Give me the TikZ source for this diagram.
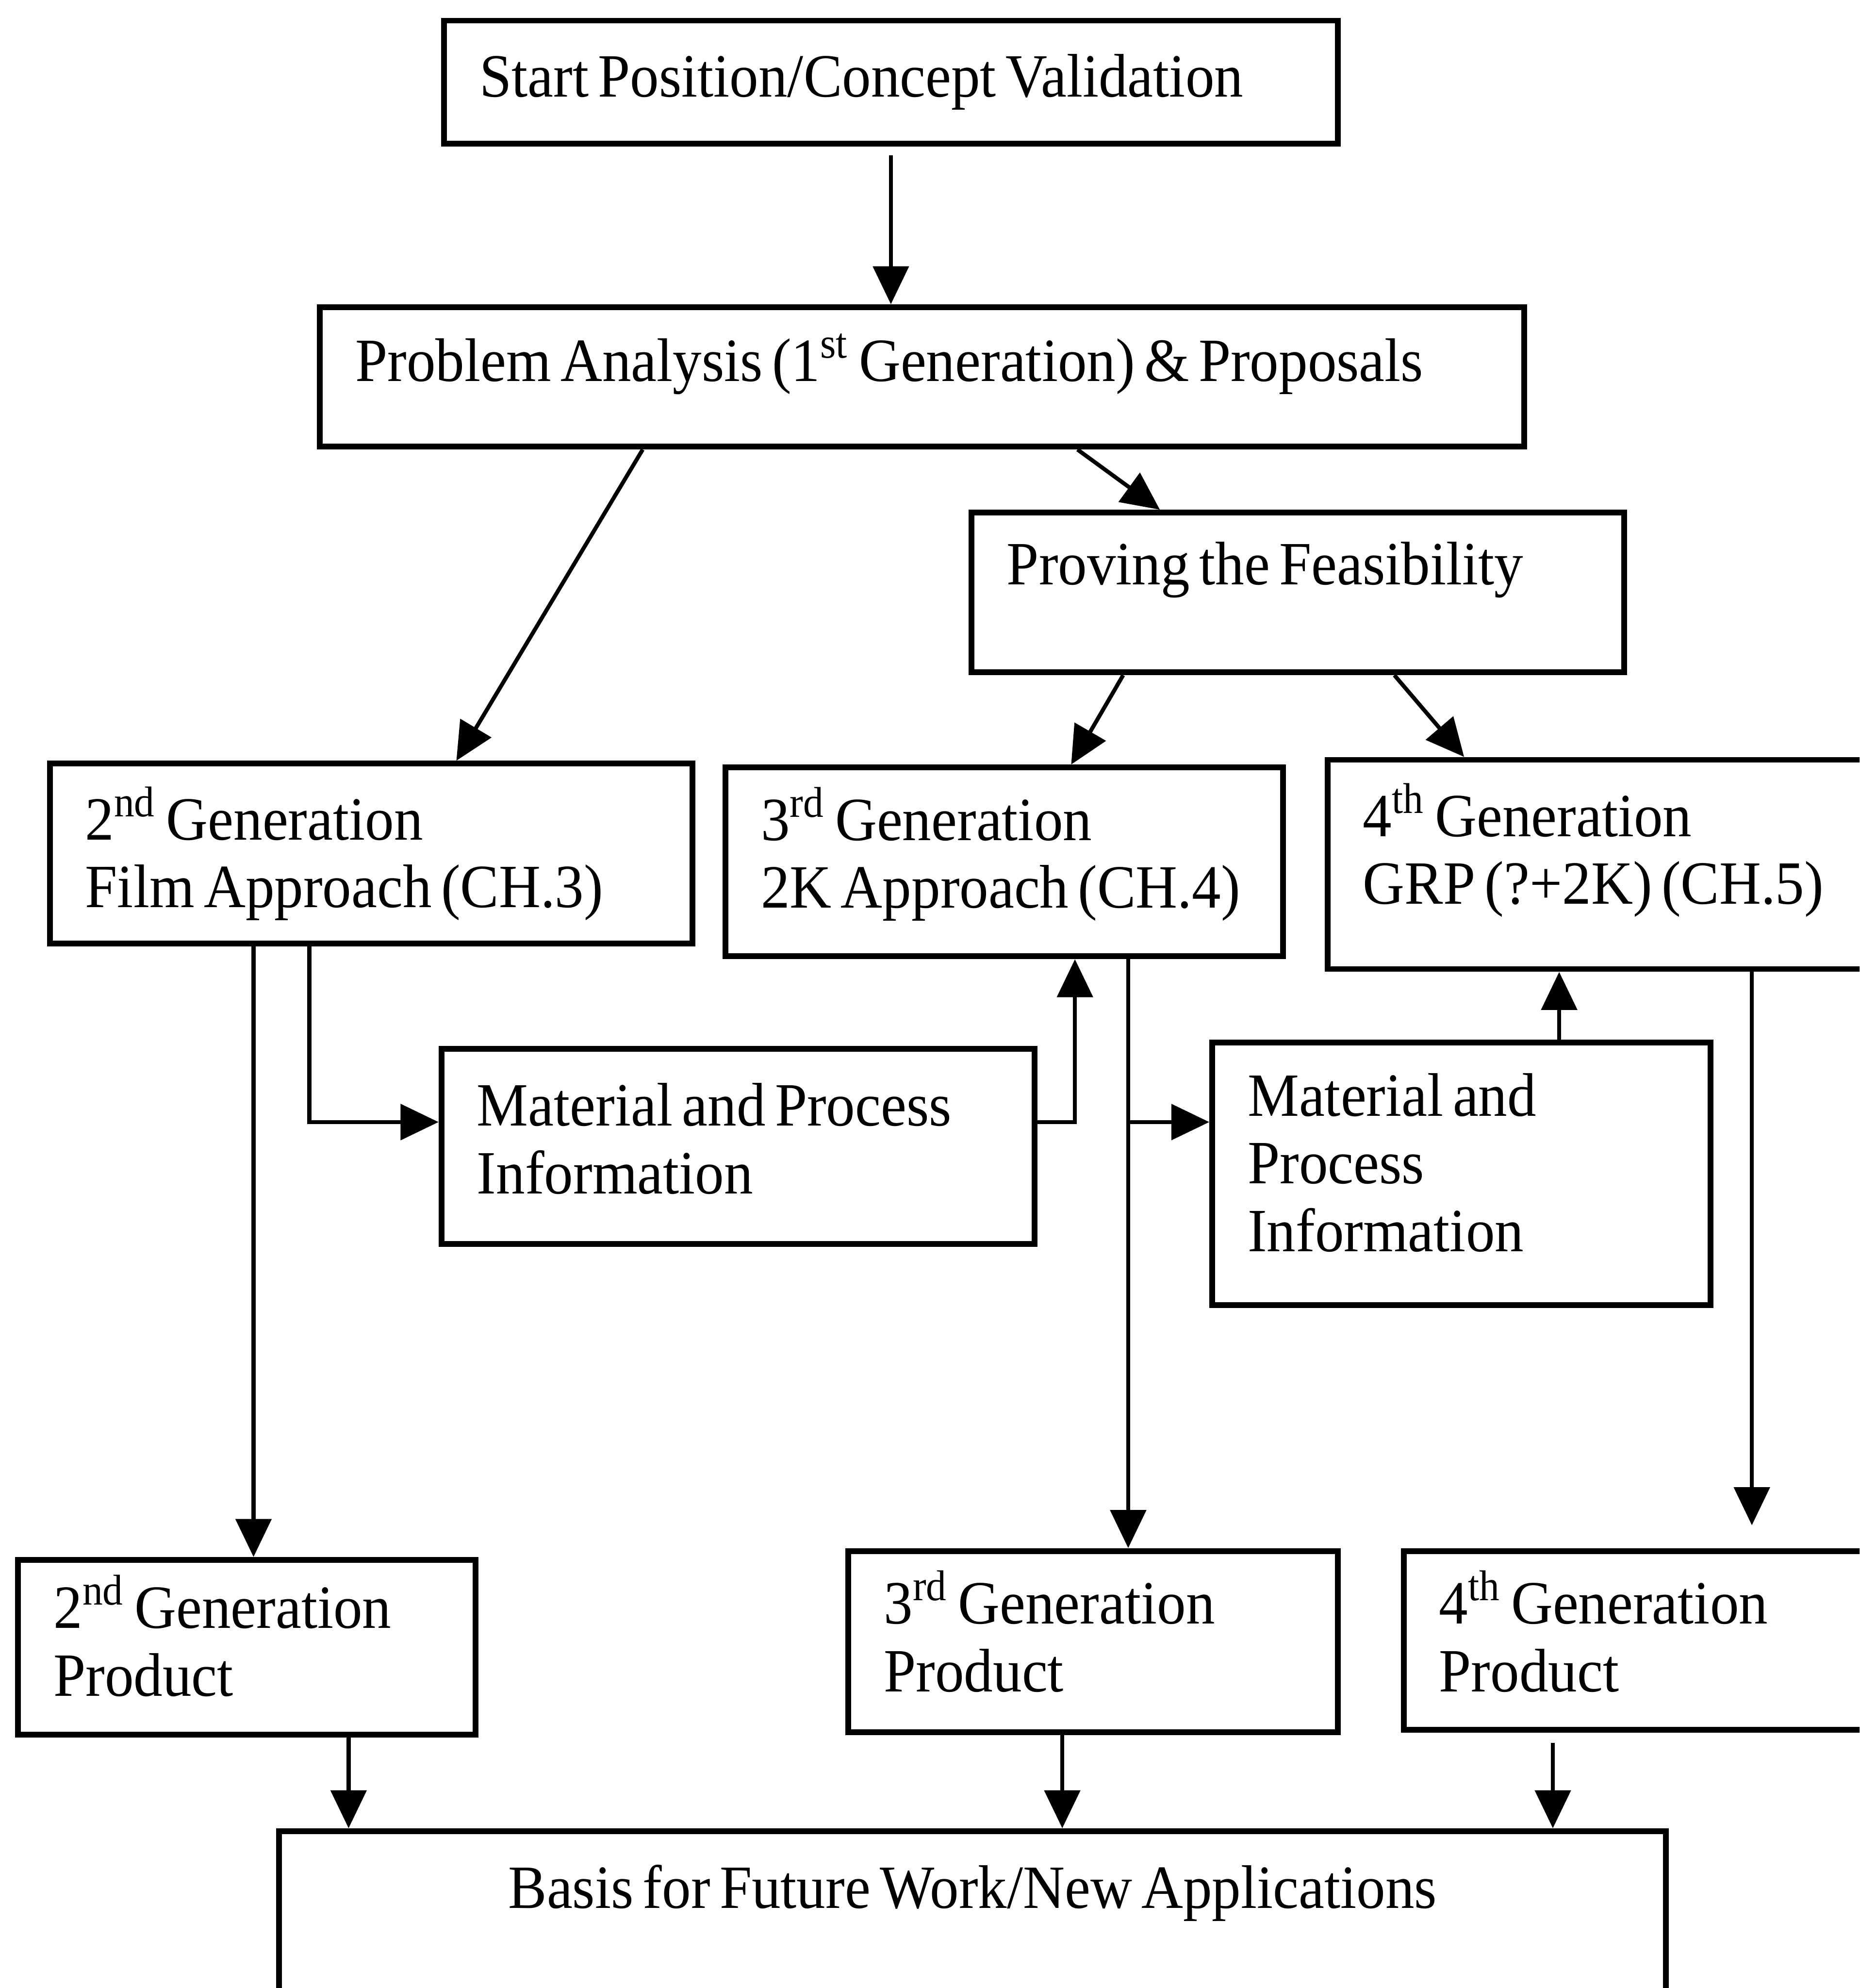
\documentclass[tikz,border=0pt]{standalone}
\usepackage{fontspec}
\setmainfont{Liberation Serif}[FakeStretch=0.94, WordSpace=0.65]
\usepackage{tikz}
\usetikzlibrary{arrows.meta, positioning, calc}

\begin{document}
\begin{tikzpicture}[
  stage/.style={draw, line width=1.3pt, anchor=north west, align=flush left, inner xsep=0.28cm, inner ysep=0pt, font=\fontsize{13.8}{15.2}\selectfont},
  flow/.style={line width=0.9pt, -{Triangle[length=0.3cm, width=0.28cm]}}
]
\useasboundingbox (0,0) rectangle (14.67,-15.68);
\clip (0,0) rectangle (14.67,-15.68);

% Start and analysis
\node[stage, text width=6.49cm, minimum height=0.97cm] (start) at (3.48,-0.14) {Start Position/Concept Validation};
\node[stage, text width=8.94cm, minimum height=1.10cm, text depth=0.31cm] (problem) at (2.50,-2.40) {Problem Analysis (1\textsuperscript{st} Generation) \& Proposals};
\node[stage, text width=4.59cm, minimum height=1.26cm, text depth=0.46cm] (proving) at (7.64,-4.02) {Proving the Feasibility};

% Generations
\node[stage, text width=4.51cm, minimum height=1.42cm] (gen2) at (0.37,-6.00) {2\textsuperscript{nd} Generation\\Film Approach (CH.3)};
\node[stage, text width=3.84cm, minimum height=1.49cm, text depth=0.76cm] (gen3) at (5.70,-6.03) {3\textsuperscript{rd} Generation\\2K Approach (CH.4)};
\node[stage, text width=4.04cm, minimum height=1.65cm, text depth=0.86cm] (gen4) at (10.45,-5.97) {4\textsuperscript{th} Generation\\GRP (?+2K) (CH.5)};

% Material and process information
\node[stage, text width=4.12cm, minimum height=1.54cm, text depth=0.66cm] (mat1) at (3.46,-8.25) {Material and Process\\Information};
\node[stage, text width=3.37cm, minimum height=2.07cm, text depth=1.25cm] (mat2) at (9.54,-8.20) {Material and\\Process\\Information};

% Products
\node[stage, text width=3.05cm, minimum height=1.38cm, text depth=0.72cm] (prod2) at (0.12,-12.28) {2\textsuperscript{nd} Generation\\Product};
\node[stage, text width=3.30cm, minimum height=1.43cm, text depth=0.70cm] (prod3) at (6.67,-12.21) {3\textsuperscript{rd} Generation\\Product};
\node[stage, text width=3.60cm, minimum height=1.41cm, text depth=0.68cm] (prod4) at (11.05,-12.21) {4\textsuperscript{th} Generation\\Product};

% Basis
\node[stage, align=flush center, text width=10.38cm, minimum height=1.9cm, text depth=1.03cm] (basis) at (2.18,-14.42) {Basis for Future Work/New Applications};

% helper points on the box edges
\coordinate (g2a) at ([xshift=1.63cm]gen2.south west);
\coordinate (g2b) at ([xshift=2.07cm]gen2.south west);
\coordinate (g3in) at ([xshift=2.78cm]gen3.south west);
\coordinate (g3out) at ([xshift=3.20cm]gen3.south west);
\coordinate (g4in) at ([xshift=1.85cm]gen4.south west);
\coordinate (g4out) at ([xshift=3.37cm]gen4.south west);
\coordinate (m1in) at ([yshift=-0.60cm]mat1.north west);
\coordinate (m1out) at ([yshift=-0.60cm]mat1.north east);
\coordinate (m2in) at ([yshift=-0.65cm]mat2.north west);
\coordinate (p4top) at ([yshift=0.18cm]prod4.north);
\coordinate (p2out) at ([xshift=2.63cm]prod2.south west);
\coordinate (p3out) at ([xshift=1.71cm]prod3.south west);
\coordinate (p4out) at ([xshift=1.20cm,yshift=-0.08cm]prod4.south west);

% Arrows down the chain
\draw[flow] ([yshift=-0.07cm]start.south) -- (start.south |- problem.north);
\draw[flow] ([xshift=2.57cm]problem.south west) -- ([xshift=3.23cm]gen2.north west);
\draw[flow] ([xshift=6.00cm]problem.south west) -- ([xshift=1.51cm]proving.north west);
\draw[flow] ([xshift=1.22cm]proving.south west) -- ([xshift=2.75cm]gen3.north west);
\draw[flow] ([xshift=3.36cm]proving.south west) -- ([xshift=1.10cm]gen4.north west);

% Side branches through the information boxes
\draw[flow] (g2b) |- (m1in);
\draw[flow] (m1out) -| (g3in);
\draw[flow] (g3out |- m2in) -- (m2in);
\draw[flow] (g4in |- mat2.north) -- (g4in);

% Down to the products
\draw[flow] (g2a) -- (g2a |- prod2.north);
\draw[flow] (g3out) -- (g3out |- prod3.north);
\draw[flow] (g4out) -- (g4out |- p4top);

% Products to basis
\draw[flow] (p2out) -- (p2out |- basis.north);
\draw[flow] (p3out) -- (p3out |- basis.north);
\draw[flow] (p4out) -- (p4out |- basis.north);

\end{tikzpicture}
\end{document}
